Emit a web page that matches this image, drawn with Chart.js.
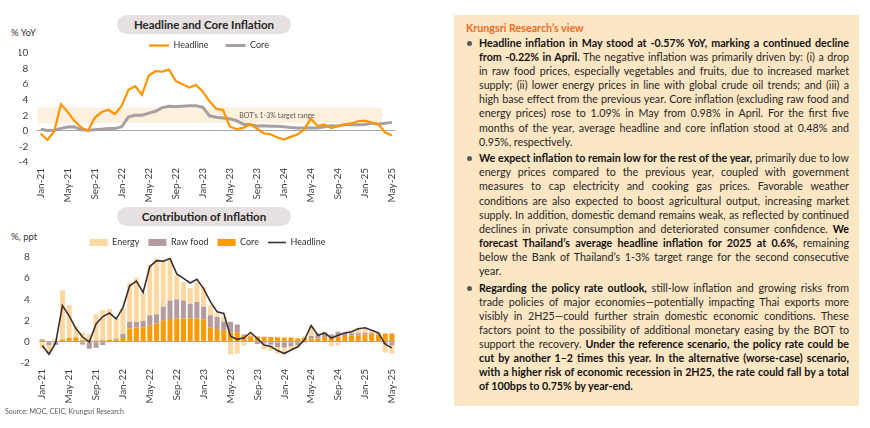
<!DOCTYPE html>
<html>
<head>
<meta charset="utf-8">
<script src="https://cdn.jsdelivr.net/npm/chart.js@4.4.1/dist/chart.umd.min.js"></script>
<style>
  body { margin: 0; width: 870px; height: 428px; background: #fff; position: relative; overflow: hidden;
         font-family: Lato, "Open Sans", sans-serif; }
  .pill { position: absolute; left: 117px; width: 174px; height: 19px; border-radius: 10px; background: #E7E0E0;
          font-weight: bold; font-size: 11.5px; color: #262626; text-align: center; line-height: 19px; }
  .ytitle { position: absolute; left: 11px; font-size: 9.5px; color: #333; }
  .box { position: absolute; left: 0; width: 410px; }
  .source { position: absolute; left: 5px; top: 407px; font-size: 7px; color: #595959; }
  #panel { position: absolute; left: 454px; top: 15px; width: 405px; height: 391px; background: #FDE6C4;
           color: #262626; font-size: 10.7px; line-height: 14.1px; }
  #panel h3 { margin: 0; position: absolute; left: 12px; top: 6px; font-size: 10.7px; color: #F26A1B;
              font-weight: bold; line-height: 14px; }
  #panel ul { list-style: none; margin: 0; padding: 0; position: absolute; left: 25px; top: 21px; width: 370px; }
  #panel li { position: relative; text-align: justify; margin-bottom: 2.5px; }
  #panel li::before { content: ''; position: absolute; left: -12px; top: 5px; width: 5px; height: 5px;
                      border-radius: 50%; background: #595959; }
  #panel b { color: #111; }
</style>
</head>
<body>

<div class="pill" style="top:15px">Headline and Core Inflation</div>
<div class="ytitle" style="top:27px">% YoY</div>
<div class="box" style="top:24px; height:188px"><canvas id="topChart"></canvas></div>

<div class="pill" style="top:207px">Contribution of Inflation</div>
<div class="ytitle" style="top:231px">%, ppt</div>
<div class="box" style="top:229px; height:184px"><canvas id="botChart"></canvas></div>

<div class="source">Source: MOC, CEIC, Krungsri Research</div>

<div id="panel">
  <h3>Krungsri Research’s view</h3>
  <ul>
    <li><b>Headline inflation in May stood at -0.57% YoY, marking a continued decline from -0.22% in April.</b> The negative inflation was primarily driven by: (i) a drop in raw food prices, especially vegetables and fruits, due to increased market supply; (ii) lower energy prices in line with global crude oil trends; and (iii) a high base effect from the previous year. Core inflation (excluding raw food and energy prices) rose to 1.09% in May from 0.98% in April. For the first five months of the year, average headline and core inflation stood at 0.48% and 0.95%, respectively.</li>
    <li><b>We expect inflation to remain low for the rest of the year,</b> primarily due to low energy prices compared to the previous year, coupled with government measures to cap electricity and cooking gas prices. Favorable weather conditions are also expected to boost agricultural output, increasing market supply. In addition, domestic demand remains weak, as reflected by continued declines in private consumption and deteriorated consumer confidence. <b>We forecast Thailand’s average headline inflation for 2025 at 0.6%,</b> remaining below the Bank of Thailand’s 1-3% target range for the second consecutive year.</li>
    <li><b>Regarding the policy rate outlook,</b> still-low inflation and growing risks from trade policies of major economies—potentially impacting Thai exports more visibly in 2H25—could further strain domestic economic conditions. These factors point to the possibility of additional monetary easing by the BOT to support the recovery. <b>Under the reference scenario, the policy rate could be cut by another 1–2 times this year. In the alternative (worse-case) scenario, with a higher risk of economic recession in 2H25, the rate could fall by a total of 100bps to 0.75% by year-end.</b></li>
  </ul>
</div>

<script>
const MONTHS = [
  'Jan-21', 'Feb-21', 'Mar-21', 'Apr-21', 'May-21', 'Jun-21', 'Jul-21', 'Aug-21', 'Sep-21', 'Oct-21', 'Nov-21', 'Dec-21',
  'Jan-22', 'Feb-22', 'Mar-22', 'Apr-22', 'May-22', 'Jun-22', 'Jul-22', 'Aug-22', 'Sep-22', 'Oct-22', 'Nov-22', 'Dec-22',
  'Jan-23', 'Feb-23', 'Mar-23', 'Apr-23', 'May-23', 'Jun-23', 'Jul-23', 'Aug-23', 'Sep-23', 'Oct-23', 'Nov-23', 'Dec-23',
  'Jan-24', 'Feb-24', 'Mar-24', 'Apr-24', 'May-24', 'Jun-24', 'Jul-24', 'Aug-24', 'Sep-24', 'Oct-24', 'Nov-24', 'Dec-24',
  'Jan-25', 'Feb-25', 'Mar-25', 'Apr-25', 'May-25',
];

// % YoY
const HEADLINE = [
  -0.34, -1.17, -0.08, 3.41, 2.44, 1.25, 0.45, -0.02, 1.68, 2.38, 2.71, 2.17,
  3.23, 5.28, 5.73, 4.65, 7.10, 7.66, 7.61, 7.86, 6.41, 5.98, 5.55, 5.89,
  5.02, 3.79, 2.83, 2.67, 0.53, 0.23, 0.38, 0.88, 0.30, -0.31, -0.44, -0.83,
  -1.11, -0.77, -0.47, 0.19, 1.54, 0.62, 0.83, 0.35, 0.61, 0.83, 0.95, 1.23,
  1.32, 1.08, 0.84, -0.22, -0.57,
];
const CORE = [
  0.21, 0.04, 0.08, 0.32, 0.49, 0.52, 0.14, 0.07, 0.14, 0.21, 0.29, 0.29,
  0.52, 1.80, 2.00, 2.00, 2.28, 2.51, 2.99, 3.15, 3.12, 3.17, 3.22, 3.23,
  3.04, 1.93, 1.75, 1.66, 1.55, 1.32, 0.86, 0.79, 0.63, 0.66, 0.58, 0.58,
  0.52, 0.43, 0.37, 0.38, 0.39, 0.36, 0.52, 0.64, 0.62, 0.77, 0.80, 0.79,
  0.83, 0.99, 0.86, 0.98, 1.09,
];

// contributions, ppt
const CORE_CONTRIB = [
  0.15, 0.03, 0.06, 0.22, 0.35, 0.40, 0.15, 0.05, 0.10, 0.15, 0.20, 0.21,
  0.37, 1.25, 1.35, 1.35, 1.57, 1.72, 2.04, 2.16, 2.20, 2.20, 2.23, 2.20,
  2.13, 1.32, 1.20, 1.10, 0.91, 0.91, 0.55, 0.53, 0.47, 0.47, 0.45, 0.42,
  0.40, 0.40, 0.33, 0.40, 0.30, 0.30, 0.45, 0.40, 0.47, 0.55, 0.60, 0.60,
  0.70, 0.75, 0.70, 0.78, 0.78,
];
const RAWFOOD_CONTRIB = [
  0.10, -0.30, -0.30, 0.00, 0.00, 0.05, -0.25, -0.65, -0.55, -0.30, 0.00, 0.10,
  0.40, 0.63, 0.55, 0.62, 0.93, 0.88, 1.26, 1.74, 1.80, 1.70, 1.37, 1.56,
  1.17, 1.18, 1.15, 0.78, 0.98, 0.73, 0.15, 0.00, -0.20, -0.15, -0.25, -0.50,
  -0.53, -0.43, -0.30, -0.10, 0.25, 0.40, 0.40, 0.30, 0.48, 0.30, 0.20, 0.20,
  0.15, 0.10, 0.05, -0.20, -0.33,
];
const ENERGY_CONTRIB = [
  -0.60, -0.80, 0.20, 4.64, 3.10, 1.02, 0.73, 0.65, 2.50, 2.85, 2.90, 1.90,
  2.40, 3.67, 4.15, 2.67, 4.80, 5.24, 4.40, 3.94, 2.27, 1.74, 1.48, 1.79,
  1.87, 0.95, 0.31, 0.47, -1.20, -1.10, -0.35, 0.35, 0.05, -0.55, -0.60, -0.60,
  -0.57, -0.25, -0.30, 0.10, 0.95, 0.10, 0.10, -0.43, -0.33, 0.10, 0.27, 0.50,
  0.35, 0.20, 0.15, -0.80, -0.80,
];

const TARGET_LOW = 1;
const TARGET_HIGH = 3;
const BAND_END = 'Mar-25';
const BAND_LABEL = 'BOT’s 1-3% target range';
const BAND_LABEL_AT = 'Dec-23';
const LEGEND_ORDER = ['Headline', 'Core', 'Energy', 'Raw food'];
const BOT_LEGEND_ORDER = ['Energy', 'Raw food', 'Core', 'Headline'];

const COLORS = {
  headline: '#FF9500',
  core: '#A8A0A0',
  energy: '#FFD8A1',
  rawFood: '#B49C9E',
  coreBar: '#FF9A00',
  headlineDark: '#3B3030',
  zero: '#A6A6A6',
  band: '#FDF0DC',
};

Chart.defaults.font.family = 'Lato, "Open Sans", sans-serif';
Chart.defaults.font.size = 10;
Chart.defaults.color = '#404040';

const targetBand = {
  id: 'targetBand',
  beforeDatasetsDraw(chart) {
    const { ctx, chartArea, scales: { x, y } } = chart;
    const step = x.getPixelForValue(1) - x.getPixelForValue(0);
    const right = x.getPixelForValue(MONTHS.indexOf(BAND_END)) + step / 2;
    const top = y.getPixelForValue(TARGET_HIGH);
    const bottom = y.getPixelForValue(TARGET_LOW);
    ctx.save();
    ctx.fillStyle = COLORS.band;
    ctx.fillRect(chartArea.left, top, right - chartArea.left, bottom - top);
    ctx.fillStyle = '#595959';
    ctx.font = '7px Lato, sans-serif';
    ctx.textAlign = 'center';
    ctx.textBaseline = 'middle';
    ctx.fillText(BAND_LABEL, x.getPixelForValue(MONTHS.indexOf(BAND_LABEL_AT)), (top + bottom) / 2);
    ctx.restore();
  },
};

function xAxis(stacked) {
  return {
    stacked,
    offset: true,
    grid: { display: false, drawTicks: false },
    border: { display: false },
    ticks: {
      autoSkip: false, maxRotation: 90, minRotation: 90, padding: 6,
      callback(v, i) { return i % 4 === 0 ? MONTHS[i] : null; },
    },
    afterFit(s) { s.height = 50; },
  };
}

function yAxis(min, max, width, stacked) {
  return {
    stacked, min, max,
    ticks: { stepSize: 2, padding: 9 },
    grid: { drawTicks: false, color: (c) => (c.tick.value === 0 ? COLORS.zero : 'rgba(0,0,0,0)') },
    border: { display: false },
    afterFit(s) { s.width = width; },
  };
}

function legend(order, padding, maxHeight, boxW) {
  return {
    position: 'top',
    maxHeight,
    labels: {
      usePointStyle: true, pointStyleWidth: boxW, boxHeight: 7, padding, color: '#333',
      font: { size: 9 },
      sort: (a, b) => order.indexOf(a.text) - order.indexOf(b.text),
    },
  };
}

new Chart(document.getElementById('topChart'), {
  type: 'line',
  data: {
    labels: MONTHS,
    datasets: [
      { label: 'Headline', data: HEADLINE, borderColor: COLORS.headline, backgroundColor: COLORS.headline,
        borderWidth: 2.2, pointRadius: 0, pointStyle: 'line' },
      { label: 'Core', data: CORE, borderColor: COLORS.core, backgroundColor: COLORS.core,
        borderWidth: 3, pointRadius: 0, pointStyle: 'line' },
    ],
  },
  options: {
    responsive: true, maintainAspectRatio: false, animation: false,
    layout: { padding: { left: 19, right: 11 } },
    plugins: { legend: legend(LEGEND_ORDER, 17, 29, 20), tooltip: { enabled: false } },
    scales: { x: xAxis(false), y: yAxis(-4, 10, 18.3, false) },
  },
  plugins: [targetBand],
});

new Chart(document.getElementById('botChart'), {
  type: 'bar',
  data: {
    labels: MONTHS,
    datasets: [
      { type: 'line', label: 'Headline', data: HEADLINE, stack: 'line', borderColor: COLORS.headlineDark,
        backgroundColor: COLORS.headlineDark, borderWidth: 1.6, pointRadius: 0, pointStyle: 'line' },
      { label: 'Core', data: CORE_CONTRIB, backgroundColor: COLORS.coreBar, stack: 'bars', pointStyle: 'rect',
        barPercentage: 0.75, categoryPercentage: 1 },
      { label: 'Raw food', data: RAWFOOD_CONTRIB, backgroundColor: COLORS.rawFood, stack: 'bars', pointStyle: 'rect',
        barPercentage: 0.75, categoryPercentage: 1 },
      { label: 'Energy', data: ENERGY_CONTRIB, backgroundColor: COLORS.energy, stack: 'bars', pointStyle: 'rect',
        barPercentage: 0.75, categoryPercentage: 1 },
    ],
  },
  options: {
    responsive: true, maintainAspectRatio: false, animation: false,
    layout: { padding: { left: 19, right: 13.9 } },
    plugins: { legend: legend(BOT_LEGEND_ORDER, 9, 28, 18), tooltip: { enabled: false } },
    scales: { x: xAxis(true), y: yAxis(-2, 8, 19.9, true) },
  },
});
</script>
</body>
</html>
